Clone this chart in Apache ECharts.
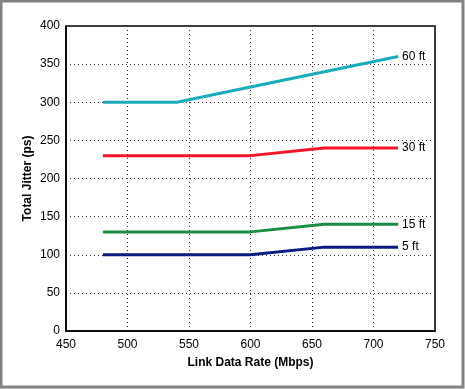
<!DOCTYPE html>
<html><head><meta charset="utf-8">
<script src="https://cdn.jsdelivr.net/npm/echarts@6/dist/echarts.min.js"></script>
<style>html,body{margin:0;padding:0;background:#fff}#c{width:465px;height:389px}</style>
</head><body><div id="c"></div>
<script>
const rates60 = [480, 540, 720];
const jitter60 = [300, 300, 360];
const rates = [480, 600, 660, 720];
const jitter30 = [230, 230, 240, 240];
const jitter15 = [130, 130, 140, 140];
const jitter5 = [100, 100, 110, 110];
const names = ['60 ft', '30 ft', '15 ft', '5 ft'];
const colors = ['#1aabbb', '#f5142a', '#1b8c44', '#0a1a82'];

function pairs(xs, ys){ return xs.map((x,i)=>[x, ys[i]]); }
const datasets = [pairs(rates60, jitter60), pairs(rates, jitter30), pairs(rates, jitter15), pairs(rates, jitter5)];

const chart = echarts.init(document.getElementById('c'), null, {renderer:'canvas'});
const font = 'Liberation Sans, Arial, sans-serif';
chart.setOption({
  animation:false,
  backgroundColor:'#fff',
  textStyle:{fontFamily:font},
  graphic:[{type:'rect', shape:{x:1,y:1,width:462,height:386}, style:{fill:'none', stroke:'#808080', lineWidth:3}, z:100}],
  grid:{left:66, right:30, top:26, bottom:58, show:true, borderColor:'#000', borderWidth:1.5},
  xAxis:{type:'value', min:450, max:750, interval:50,
    name:'Link Data Rate (Mbps)', nameLocation:'middle', nameGap:26,
    nameTextStyle:{fontWeight:'bold', fontSize:12, color:'#000', fontFamily:font},
    axisLine:{show:true, onZero:false, lineStyle:{color:'#000', width:1.5}},
    axisTick:{show:false},
    axisLabel:{color:'#000', fontSize:12, margin:8, fontFamily:font},
    splitLine:{show:true, lineStyle:{type:[1,3], color:'#333', width:1}}},
  yAxis:{type:'value', min:0, max:400, interval:50,
    name:'Total Jitter (ps)', nameLocation:'middle', nameGap:32, nameMoveOverlap:false,
    nameTextStyle:{fontWeight:'bold', fontSize:12, color:'#000', fontFamily:font},
    axisLine:{show:true, lineStyle:{color:'#000', width:1.5}},
    axisTick:{show:false},
    axisLabel:{color:'#000', fontSize:12, margin:6, fontFamily:font},
    splitLine:{show:true, lineStyle:{type:[1,3], color:'#333', width:1}}},
  series: datasets.map((d,i)=>({
    type:'line', name:names[i], data:d, symbol:'none', lineStyle:{color:colors[i], width:3},
    itemStyle:{color:colors[i]},
    endLabel:{show:true, formatter:names[i], color:'#000', fontSize:12, distance:4, fontFamily:font}
  }))
});
</script></body></html>
